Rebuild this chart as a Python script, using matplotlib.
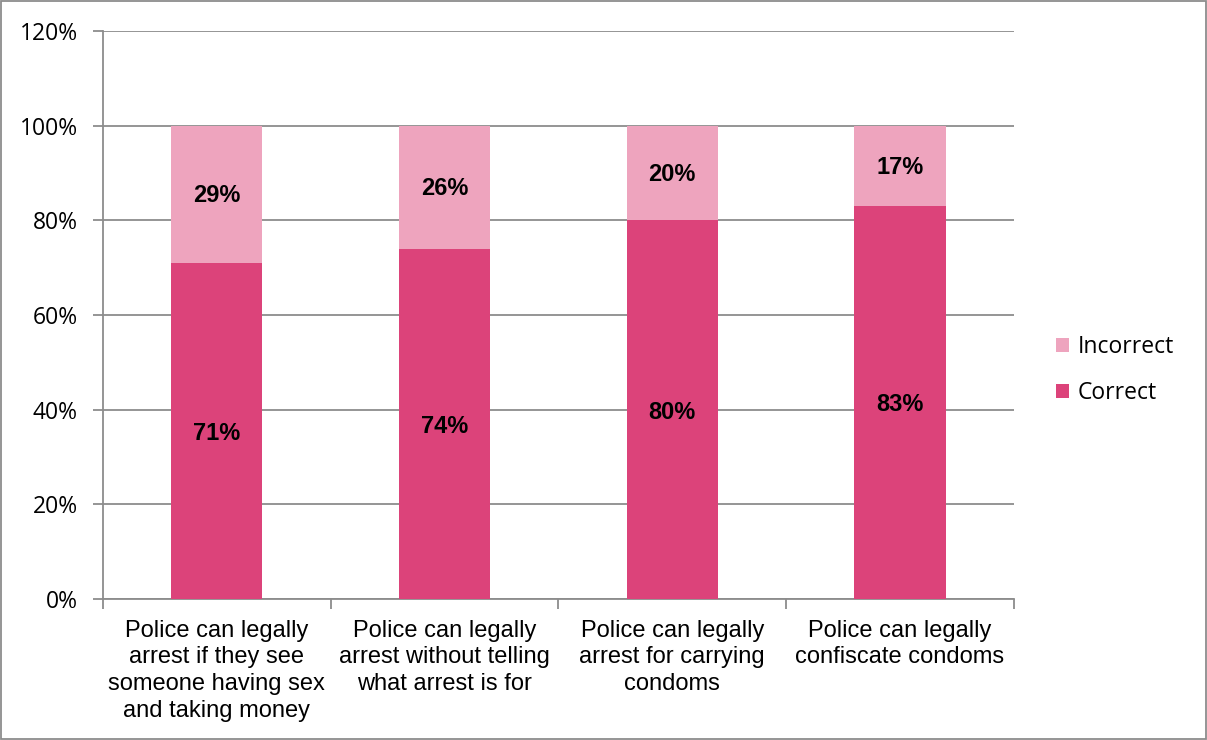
import numpy as np
import matplotlib.pyplot as plt
from matplotlib.patches import Rectangle

categories = [
    "Police can legally\narrest if they see\nsomeone having sex\nand taking money",
    "Police can legally\narrest without telling\nwhat arrest is for",
    "Police can legally\narrest for carrying\ncondoms",
    "Police can legally\nconfiscate condoms",
]
correct = [71, 74, 80, 83]
incorrect = [29, 26, 20, 17]

c_correct = "#DC437A"
c_incorrect = "#EEA4BE"
grid_c = "#8C8C8C"

fig = plt.figure(figsize=(12.07, 7.40), dpi=100)
ax = fig.add_axes([0.0853, 0.1905, 0.7547, 0.7675])

x = np.arange(len(categories))
w = 0.4
ax.bar(x, correct, w, color=c_correct, label="Correct", zorder=3)
ax.bar(x, incorrect, w, bottom=correct, color=c_incorrect, label="Incorrect", zorder=3)

for i in range(len(categories)):
    ax.text(x[i], correct[i] / 2 - 0.5, f"{correct[i]}%", ha="center", va="center",
            fontsize=17, fontweight="bold", family="Liberation Sans", zorder=4)
    ax.text(x[i], correct[i] + incorrect[i] / 2 - 0.3, f"{incorrect[i]}%", ha="center",
            va="center", fontsize=17, fontweight="bold", family="Liberation Sans", zorder=4)

ax.set_xlim(-0.5, len(categories) - 0.5)
ax.set_ylim(0, 120)
ax.set_yticks(np.arange(0, 121, 20))
ax.set_yticklabels([f"{v}%" for v in range(0, 121, 20)], family="Open Sans", fontsize=16.5)
ax.yaxis.grid(True, color=grid_c, linewidth=1.3, zorder=0)

ax.set_xticks(x)
ax.set_xticklabels(categories, family="Liberation Sans", fontsize=17, linespacing=1.27)
ax.tick_params(axis="x", length=0, pad=15)
ax.set_xticks(np.arange(-0.5, len(categories), 1), minor=True)
ax.tick_params(axis="x", which="minor", length=7, width=1.3, color=grid_c, direction="out")
ax.tick_params(axis="y", length=7, width=1.3, color=grid_c, direction="out", pad=11)

for side in ["top", "right"]:
    ax.spines[side].set_visible(False)
for side in ["left", "bottom"]:
    ax.spines[side].set_color(grid_c)
    ax.spines[side].set_linewidth(1.3)

handles, labels = ax.get_legend_handles_labels()
leg = fig.legend(handles[::-1], labels[::-1], loc="center left",
                 bbox_to_anchor=(0.8575, 0.5), frameon=False,
                 prop={"family": "Open Sans", "size": 16.5},
                 handlelength=0.6, handleheight=0.6, handletextpad=0.35,
                 labelspacing=0.95)

fig.patches.append(Rectangle((0.001, 0.001), 0.998, 0.998, transform=fig.transFigure,
                             fill=False, edgecolor=grid_c, linewidth=1.3))

fig.savefig("out.png", dpi=100)
